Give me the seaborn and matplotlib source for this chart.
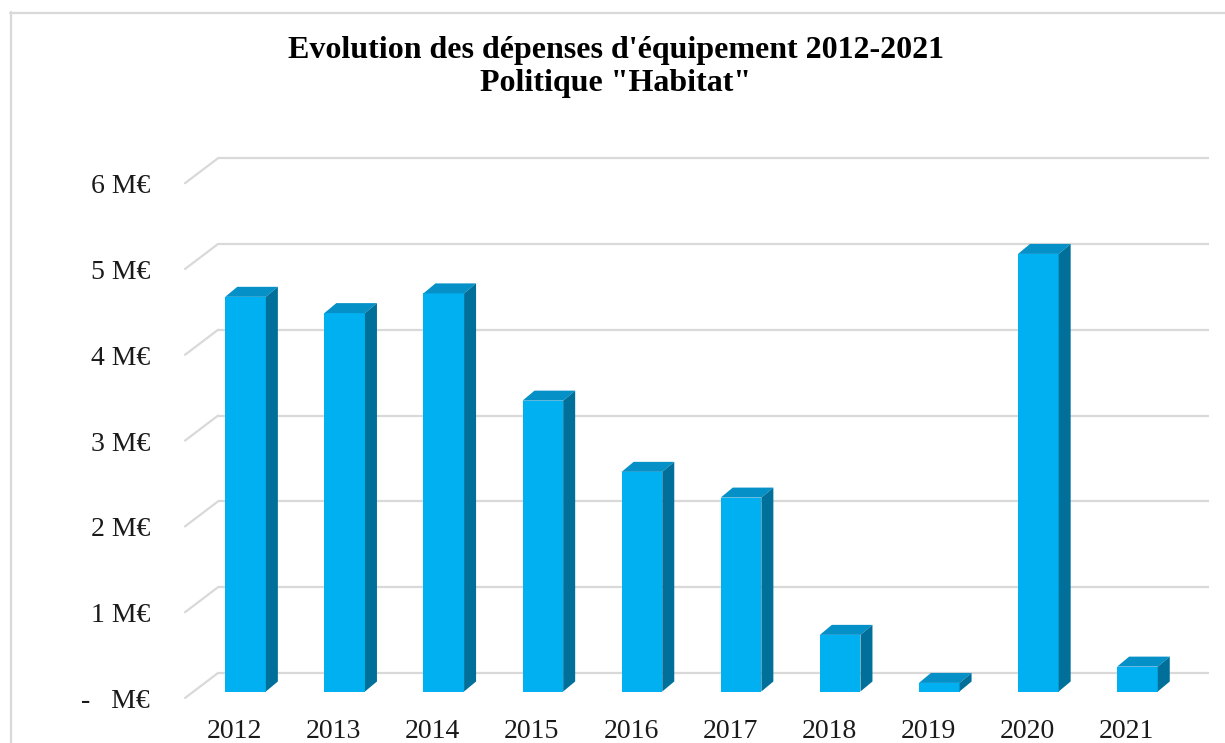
import matplotlib
matplotlib.use("Agg")
import matplotlib.pyplot as plt
import seaborn as sns
import pandas as pd
import numpy as np
from matplotlib.patches import Polygon
from matplotlib.lines import Line2D
from matplotlib.transforms import ScaledTranslation

# ---- data ----
years = ["2012", "2013", "2014", "2015", "2016", "2017", "2018", "2019", "2020", "2021"]
depenses_meur = [4.60, 4.41, 4.64, 3.39, 2.56, 2.26, 0.66, 0.10, 5.10, 0.29]
y_ticks = [0, 1, 2, 3, 4, 5, 6]
y_tick_labels = ["-   M€", "1 M€", "2 M€", "3 M€", "4 M€", "5 M€", "6 M€"]
title_text = "Evolution des dépenses d'équipement 2012-2021\nPolitique \"Habitat\""

df = pd.DataFrame({"annee": years, "montant": depenses_meur})

sns.set_theme(style="white")
plt.rcParams["font.family"] = ["Liberation Serif", "DejaVu Serif"]

W, H = 1225, 743
fig = plt.figure(figsize=(W / 100, H / 100), dpi=100)
fig.patch.set_facecolor("white")

# axes in pixel geometry (bar front plane)
ax_left, ax_right = 196, 1187
ax_bottom_px, ax_top_px = 691.5, 691.5 - 6 * 85.8
ax = fig.add_axes([ax_left / W, (H - ax_bottom_px) / H,
                   (ax_right - ax_left) / W, (ax_bottom_px - ax_top_px) / H])
ax.set_facecolor("none")

FRONT = "#00B0F0"
TOP = "#0590C8"
SIDE = "#00709A"
GRID = "#D9D9D9"

sns.barplot(data=df, x="annee", y="montant", color=FRONT, width=0.41,
            saturation=1, ax=ax, zorder=2, edgecolor="none")
ax.set_xlim(-0.5, len(years) - 0.5)
ax.set_ylim(0, 6)
for s in ax.spines.values():
    s.set_visible(False)
ax.set_xlabel("")
ax.set_ylabel("")

# pixel -> data conversions
px_x = (len(years)) / (ax_right - ax_left)
px_y = 6 / (ax_bottom_px - ax_top_px)

# back wall and front plane offsets (pixels)
back_dx, back_dy = 22 * px_x, 18.5 * px_y
front_dx, front_dy = -11 * px_x, -6.5 * px_y
x0, x1 = -0.5, len(years) - 0.5
for v in y_ticks:
    ax.plot([x0 + back_dx, x1 + back_dx], [v + back_dy, v + back_dy],
            color=GRID, lw=1.6, zorder=0.5, clip_on=False, solid_capstyle="butt")
    ax.plot([x0 + front_dx, x0 + back_dx], [v + front_dy, v + back_dy],
            color=GRID, lw=1.6, zorder=0.5, clip_on=False)

# 3D faces of bars
ddx, ddy = 12 * px_x, 10 * px_y
for p in list(ax.patches):
    bx, by = p.get_x(), p.get_y()
    bw, bh = p.get_width(), p.get_height()
    top = Polygon([(bx, by + bh), (bx + bw, by + bh), (bx + bw + ddx, by + bh + ddy),
                   (bx + ddx, by + bh + ddy)], closed=True, facecolor=TOP,
                  edgecolor="none", zorder=3, clip_on=False)
    side = Polygon([(bx + bw, by), (bx + bw + ddx, by + ddy), (bx + bw + ddx, by + bh + ddy),
                    (bx + bw, by + bh)], closed=True, facecolor=SIDE,
                   edgecolor="none", zorder=3, clip_on=False)
    ax.add_patch(top)
    ax.add_patch(side)

# ticks
ax.set_yticks(y_ticks)
ax.set_yticklabels(y_tick_labels, fontsize=20, color="#1a1a1a")
ax.tick_params(axis="y", length=0, pad=33)
ax.set_xticks(range(len(years)))
ax.set_xticklabels(years, fontsize=20, color="#1a1a1a")
ax.tick_params(axis="x", length=0, pad=20)
for lab in ax.get_yticklabels():
    lab.set_transform(lab.get_transform() + ScaledTranslation(0, -0.07, fig.dpi_scale_trans))
for lab in ax.get_xticklabels():
    lab.set_transform(lab.get_transform() + ScaledTranslation(-0.11, 0, fig.dpi_scale_trans))

# title
fig.text(616 / W, 1 - 67 / H, title_text, ha="center", va="center", fontsize=23,
         fontweight="bold", color="black", linespacing=1.2)

# chart border (left & top)
fig.add_artist(Line2D([11 / W, 11 / W], [0, 1 - 12 / H], color=GRID, lw=1.6,
                      transform=fig.transFigure))
fig.add_artist(Line2D([10 / W, 1], [1 - 13 / H, 1 - 13 / H], color=GRID, lw=1.6,
                      transform=fig.transFigure))

fig.savefig("out.png", dpi=100)
